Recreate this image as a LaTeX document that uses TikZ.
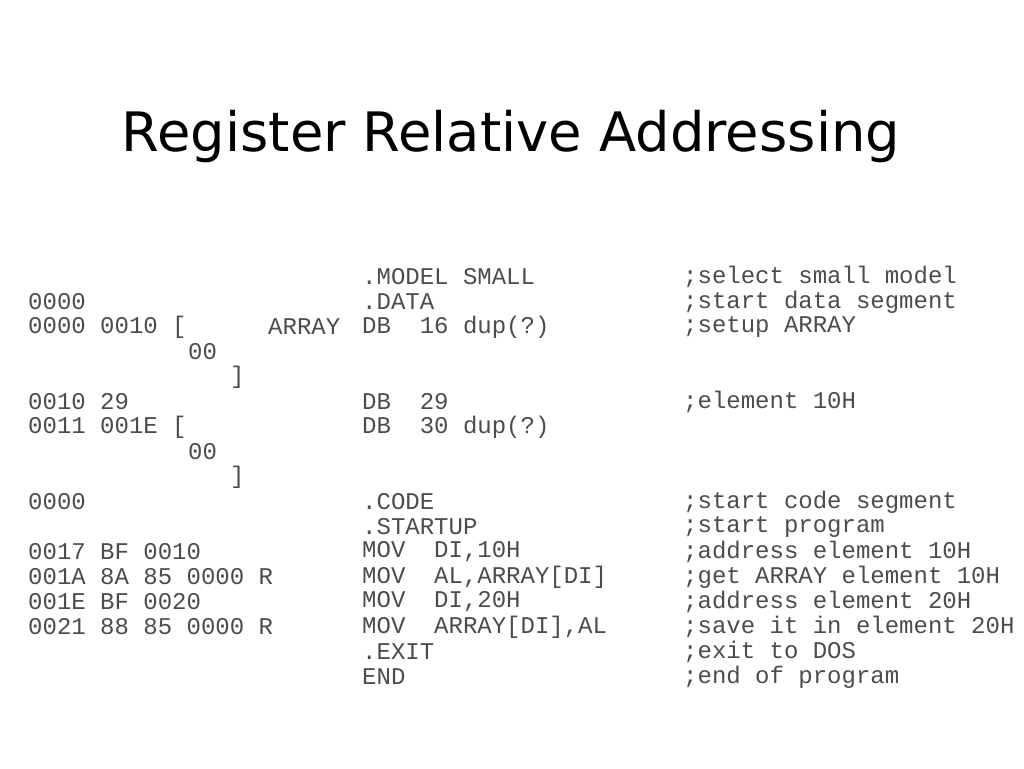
\documentclass[tikz,border=0pt]{standalone}
\usepackage{fontspec}
\setmainfont{DejaVu Sans}
\newfontfamily\codefont{Liberation Mono}
\begin{document}
\begin{tikzpicture}[x=1pt,y=-1pt,
  code/.style={anchor=west,inner sep=0pt,font=\codefont\fontsize{24}{24}\selectfont,text=black!70}]
\useasboundingbox (0,0) rectangle (1024,768);
\node[inner sep=0pt] (title) at (511,137) {\resizebox{778pt}{!}{Register Relative Addressing}};
% column 1
\node[code] (a2) at (28,302) {0000};
\node[code] (a3) at (28,327) {0000 0010 [};
\node[code] (a3b) at (268,327) {ARRAY};
\node[code] (a4) at (188,352) {00};
\node[code] (a5) at (230,377) {]};
\node[code] (a6) at (28,402) {0010 29};
\node[code] (a7) at (28,427) {0011 001E [};
\node[code] (a8) at (188,452) {00};
\node[code] (a9) at (230,477) {]};
\node[code] (a10) at (28,502) {0000};
\node[code] (a12) at (28,552) {0017 BF 0010};
\node[code] (a13) at (28,577) {001A 8A 85 0000 R};
\node[code] (a14) at (28,602) {001E BF 0020};
\node[code] (a15) at (28,627) {0021 88 85 0000 R};
% column 2
\node[code] (b1) at (362,277) {.MODEL SMALL};
\node[code] (b2) at (362,302) {.DATA};
\node[code] (b3) at (362,327) {DB\ \ 16 dup(?)};
\node[code] (b6) at (362,402) {DB\ \ 29};
\node[code] (b7) at (362,427) {DB\ \ 30 dup(?)};
\node[code] (b10) at (362,502) {.CODE};
\node[code] (b11) at (362,527) {.STARTUP};
\node[code] (b12) at (362,552) {MOV\ \ DI,10H};
\node[code] (b13) at (362,577) {MOV\ \ AL,ARRAY[DI]};
\node[code] (b14) at (362,602) {MOV\ \ DI,20H};
\node[code] (b15) at (362,627) {MOV\ \ ARRAY[DI],AL};
\node[code] (b16) at (362,652) {.EXIT};
\node[code] (b17) at (362,677) {END};
% column 3
\node[code] (c1) at (683,277) {;select small model};
\node[code] (c2) at (683,302) {;start data segment};
\node[code] (c3) at (683,327) {;setup ARRAY};
\node[code] (c6) at (683,402) {;element 10H};
\node[code] (c10) at (683,502) {;start code segment};
\node[code] (c11) at (683,527) {;start program};
\node[code] (c12) at (683,552) {;address element 10H};
\node[code] (c13) at (683,577) {;get ARRAY element 10H};
\node[code] (c14) at (683,602) {;address element 20H};
\node[code] (c15) at (683,627) {;save it in element 20H};
\node[code] (c16) at (683,652) {;exit to DOS};
\node[code] (c17) at (683,677) {;end of program};
\end{tikzpicture}
\end{document}
